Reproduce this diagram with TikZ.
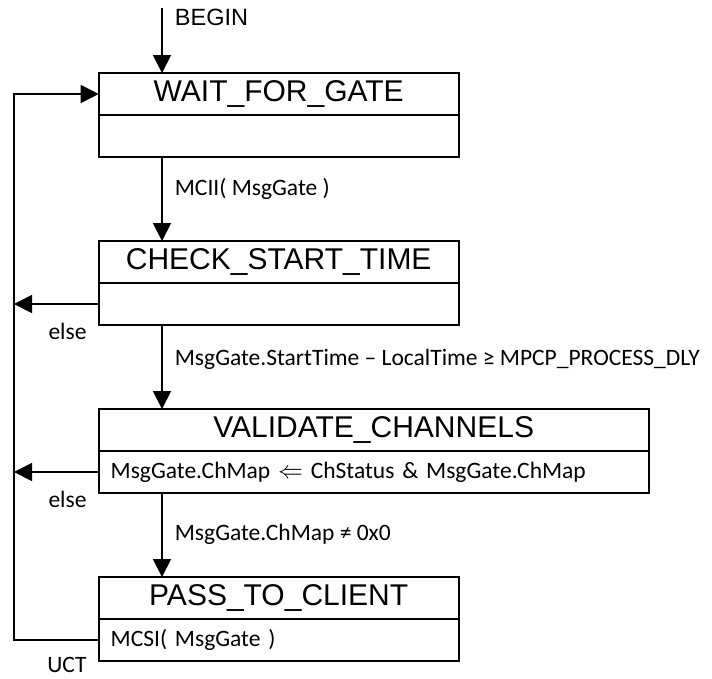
\documentclass[tikz,border=0pt]{standalone}
\usepackage{fontspec}
\setmainfont{Carlito}
\newfontfamily\arialfont{Liberation Sans}
\usepackage{tikz}
\usetikzlibrary{positioning}
\usetikzlibrary{arrows.meta}

\begin{document}
\begin{tikzpicture}[x=1pt,y=1pt,
  node distance = 84pt,
  title/.style = {draw,line width=2.2pt,minimum width=360pt,minimum height=42pt,
  inner sep=0pt,outer sep=0pt,font=\arialfont\fontsize{30}{33}\selectfont},
  act/.style = {draw,line width=2.2pt,text width=336pt,inner xsep=12pt,inner ysep=0pt,
  minimum height=42pt,outer sep=0pt,align=left,font=\fontsize{23.5}{27}\selectfont},
  lbl/.style = {font=\fontsize{23.5}{27}\selectfont,inner sep=0pt}]
 \useasboundingbox (0,0) rectangle (712,-678);
 \node[title] (wait) at (278.7,-94) {WAIT\_FOR\_GATE};
 \node[act,below=0pt of wait] (waitact) {};
 \node[title,below=of waitact] (check) {CHECK\_START\_TIME};
 \node[act,below=0pt of check] (checkact) {};
 \node[title,minimum width=550pt,below right=84pt and 0pt of checkact.south west] (valid) {VALIDATE\_CHANNELS};
 \node[act,text width=526pt,below=0pt of valid] (validact) {MsgGate.ChMap $\Leftarrow$ ChStatus \& MsgGate.ChMap};
 \node[title,below right=84pt and 0pt of validact.south west] (pass) {PASS\_TO\_CLIENT};
 \node[act,below=0pt of pass] (passact) {MCSI( MsgGate )};
 \coordinate (init) at ([xshift=63.3pt,yshift=65pt]wait.north west);
 \coordinate (rail) at ([xshift=-84.7pt]passact.west);
 \node[lbl,below left=-2pt and 12pt of checkact.south west] (else1) {else};
 \node[lbl,below left=-2pt and 12pt of validact.south west] (else2) {else};
 \node[lbl,below left=-4pt and 12pt of passact.south west] (uct) {UCT};
 \begin{scope}[line width=1.8pt,-{Triangle[length=18pt,width=18pt]}]
  \draw (init) -- node[lbl,right=12pt,pos=0.15] {\arialfont BEGIN} ([xshift=63.3pt]wait.north west);
  \draw ([xshift=63.3pt]waitact.south west) -- node[lbl,right=12pt,pos=0.38] {MCII( MsgGate )}
  ([xshift=63.3pt]check.north west);
  \draw ([xshift=63.3pt]checkact.south west) -- node[lbl,right=12pt,pos=0.41]
  {MsgGate.StartTime – LocalTime ≥ MPCP\_PROCESS\_DLY} ([xshift=63.3pt]valid.north west);
  \draw ([xshift=63.3pt]validact.south west) -- node[lbl,right=12pt,pos=0.49] {MsgGate.ChMap ≠ 0x0}
  ([xshift=63.3pt]pass.north west);
  \draw (checkact.west) -- (checkact.west -| rail);
  \draw (validact.west) -- (validact.west -| rail);
  \draw (passact.west) -- (rail) |- (wait.west);
 \end{scope}
\end{tikzpicture}
\end{document}
